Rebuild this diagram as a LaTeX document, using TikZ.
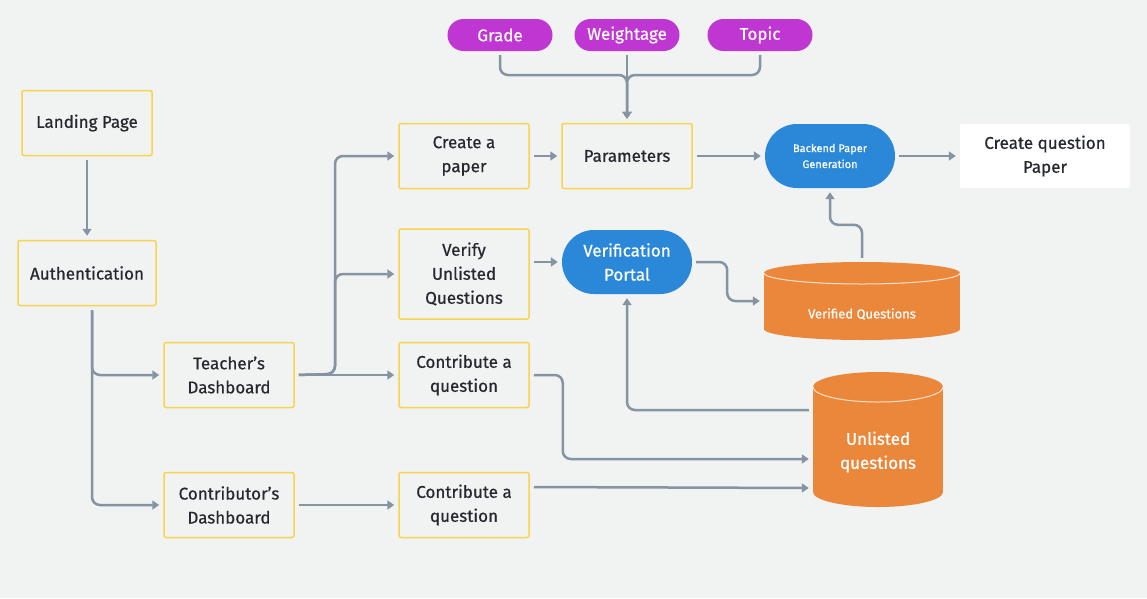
\documentclass[tikz,border=0pt]{standalone}
\usepackage{fontspec}
\setmainfont{Fira Sans}[FakeBold=0.6]
\usetikzlibrary{calc,arrows.meta}

\definecolor{bgGray}{HTML}{F1F2F2}
\definecolor{boxYellow}{HTML}{F8D44C}
\definecolor{lineGray}{HTML}{8594A3}
\definecolor{pillPurple}{HTML}{C036D3}
\definecolor{portalBlue}{HTML}{2B88D9}
\definecolor{dbOrange}{HTML}{EB873B}
\definecolor{txtDark}{HTML}{25282F}

\tikzset{
  stepbox/.style={draw=boxYellow, line width=1.5pt, rounded corners=2pt, minimum width=130pt, minimum height=65pt,
    inner sep=0pt, align=center, text=txtDark, font=\fontsize{17}{24}\selectfont},
  pill/.style={fill=pillPurple, rounded corners=16pt, minimum width=105pt, minimum height=32pt,
    inner sep=0pt, text=white, font=\fontsize{17}{20}\selectfont},
  portal/.style={fill=portalBlue, rounded corners=32pt, minimum width=130pt, minimum height=64pt,
    inner sep=0pt, align=center, text=white},
  dblabel/.style={align=center, text=white, inner sep=0pt},
  flow/.style={draw=lineGray, line width=2.5pt, rounded corners=8pt, shorten <=4pt, shorten >=4pt,
    -{Triangle[width=9pt,length=7pt]}},
}

\begin{document}
\begin{tikzpicture}[x=1pt,y=-1pt]
    \fill[bgGray] (0,0) rectangle (1147,598);

    % parameter pills
    \node[pill] (grade) at (500,35) {Grade};
    \node[pill] (weight) at (627,35) {Weightage};
    \node[pill] (topic) at (760,35) {Topic};
    \coordinate (join) at (627,75);

    % left column
    \node[stepbox] (land) at (87,123) {Landing Page};
    \node[stepbox, minimum width=138pt] (auth) at (87,273) {Authentication};
    \node[stepbox] (teach) at (229,375) {Teacher's\\Dashboard};
    \node[stepbox] (contrib) at (229,505) {Contributor's\\Dashboard};

    % middle column
    \node[stepbox] (paper) at (464,156) {Create a\\paper};
    \node[stepbox, minimum height=90pt] (verify) at (464,274) {Verify\\Unlisted\\Questions};
    \node[stepbox] (contq1) at (464,375) {Contribute a\\question};
    \node[stepbox] (contq2) at (464,505) {Contribute a\\question};
    \coordinate (fork) at (335,374);

    \node[stepbox] (params) at (627,156) {Parameters};
    \node[portal, font=\fontsize{17}{24}\selectfont] (portal) at (627,262) {Verification\\Portal};
    \node[portal, font=\fontsize{11}{16}\selectfont] (backend) at (830,156) {Backend Paper\\Generation};
    \node[fill=white, rounded corners=2pt, minimum width=170pt, minimum height=64pt, inner sep=0pt,
      align=center, text=txtDark, font=\fontsize{17}{24}\selectfont] (qpaper) at (1045,156) {Create question\\Paper};

    % verified questions store
    \fill[dbOrange] (764,273) rectangle (960,329);
    \fill[dbOrange] (862,273) ellipse[x radius=98pt, y radius=11pt];
    \fill[dbOrange] (862,329) ellipse[x radius=98pt, y radius=11pt];
    \draw[white!75!dbOrange, line width=1pt] (764,273) arc[start angle=180, end angle=360, x radius=98pt, y radius=11pt];
    \node[minimum width=196pt, minimum height=78pt, inner sep=0pt] (vq) at (862,301) {};
    \node[dblabel, font=\fontsize{13}{16}\selectfont] (vqlabel) at (862,314) {Verified Questions};

    % unlisted questions store
    \fill[dbOrange] (813,387) rectangle (943,492);
    \fill[dbOrange] (878,387) ellipse[x radius=65pt, y radius=15pt];
    \fill[dbOrange] (878,492) ellipse[x radius=65pt, y radius=15pt];
    \draw[white!75!dbOrange, line width=1pt] (813,387) arc[start angle=180, end angle=360, x radius=65pt, y radius=15pt];
    \node[minimum width=130pt, minimum height=135pt, inner sep=0pt] (unl) at (878,440) {};
    \node[dblabel, font=\fontsize{17}{24}\selectfont] (unllabel) at (878,452) {Unlisted\\questions};

    % connectors
    \draw[flow] (grade.south) |- (join) -- (params.north);
    \draw[flow] (topic.south) |- (join) -- (params.north);
    \draw[flow] (weight.south) -- (params.north);

    \draw[flow] (land) -- (auth);
    \draw[flow] ($(auth.south)+(5,0)$) |- (teach.west);
    \draw[flow] ($(auth.south)+(5,0)$) |- (contrib.west);

    \draw[flow] (teach.east) -- (contq1.west);
    \draw[flow] (teach.east) -- (fork) |- (verify.west);
    \draw[flow] (teach.east) -- (fork) |- (paper.west);

    \draw[flow] (paper) -- (params);
    \draw[flow] (params) -- (backend);
    \draw[flow] (backend) -- (qpaper);

    \draw[flow] (verify.east |- portal.west) -- (portal.west);
    \draw[flow] (portal.east) -- ++(35,0) |- (vq.west);
    \draw[flow] (vq.north) -- ++(0,-37) -| (backend.south);

    \draw[flow] ($(unl.west)+(0,-30)$) -| (portal.south);
    \draw[flow] (contq1.east) -- ++(33,0) |- ($(unl.west)+(0,19)$);
    \draw[flow] ($(contq2.east)+(0,-18)$) -- ($(unl.west)+(0,48)$);
    \draw[flow] (contrib) -- (contq2);
\end{tikzpicture}
\end{document}
